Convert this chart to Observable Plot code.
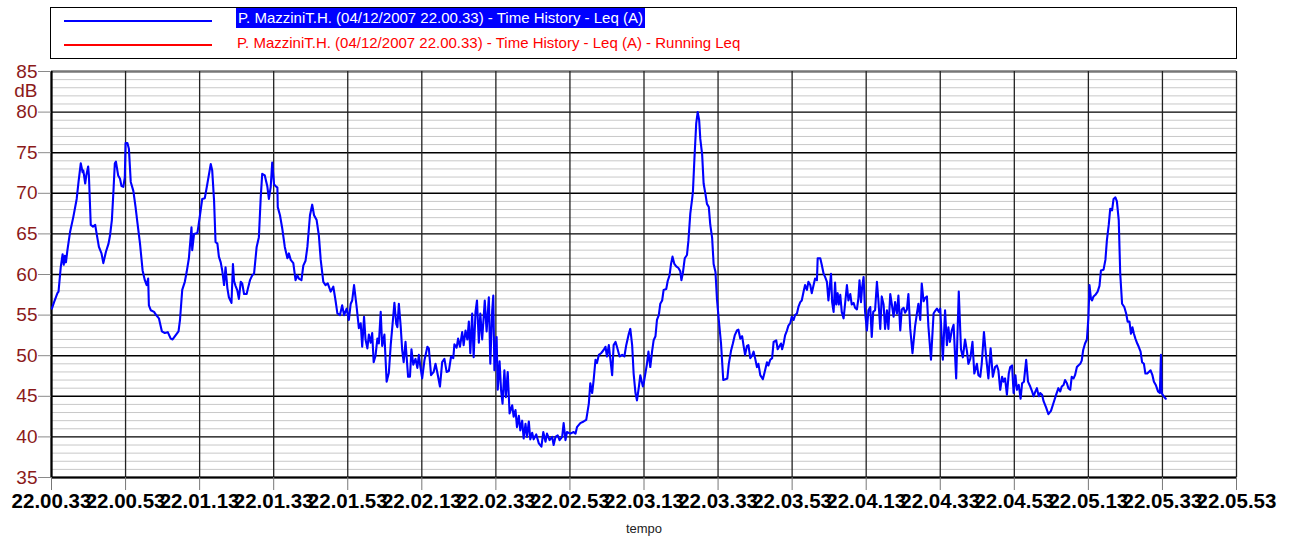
<!DOCTYPE html>
<html><head><meta charset="utf-8">
<script src="https://cdn.jsdelivr.net/npm/d3@7"></script>
<script src="https://cdn.jsdelivr.net/npm/@observablehq/plot@0.6"></script>
<style>
body{margin:0;background:#fff;font-family:"Liberation Sans",Arial,sans-serif;}
#wrap{position:relative;width:1296px;height:538px;overflow:hidden;}
#chart{position:absolute;left:0;top:0;}
#legend{position:absolute;left:50px;top:7px;width:1187px;height:52px;border:1.3px solid #000;box-sizing:border-box;}
.lline{position:absolute;left:13px;width:148px;height:2.4px;}
.ltext{position:absolute;font-size:15px;white-space:nowrap;line-height:20px;}
</style></head>
<body><div id="wrap"><div id="chart"></div><div id="legend"></div></div>
<script>
// ---- data ----
const seriesNames = [
  "P. MazziniT.H. (04/12/2007 22.00.33) - Time History - Leq (A)",
  "P. MazziniT.H. (04/12/2007 22.00.33) - Time History - Leq (A) - Running Leq"
];
const seriesColors = ["#0000ff", "#ff0000"];
const xTickSeconds = [0,20,40,60,80,100,120,140,160,180,200,220,240,260,280,300,320];
const xTickLabels = ["22.00.33","22.00.53","22.01.13","22.01.33","22.01.53","22.02.13","22.02.33","22.02.53","22.03.13","22.03.33","22.03.53","22.04.13","22.04.33","22.04.53","22.05.13","22.05.33","22.05.53"];
const yTicks = [35,40,45,50,55,60,65,70,75,80,85];
const yMinor = [36,37,38,39,41,42,43,44,46,47,48,49,51,52,53,54,56,57,58,59,61,62,63,64,66,67,68,69,71,72,73,74,76,77,78,79,81,82,83,84];
const yUnit = "dB";
const xTitle = "tempo";
// [seconds from 22.00.33, Leq dB(A)]
const leqSeries = [
[0.1,55.8],[0.7,56.6],[1.6,57.7],[1.9,57.9],[2.5,60.9],[3.0,62.5],[3.3,61.2],[3.6,62.3],[3.9,61.5],[4.3,63],
[5.0,65.2],[5.9,67.1],[6.8,69.3],[7.3,71.4],[7.9,73.7],[8.4,72.6],[8.6,72.8],[9.1,71.2],[9.4,72.2],[9.9,73.3],
[10.1,72.2],[10.6,66.1],[11.2,65.9],[11.8,66.1],[12.2,65],[12.8,63.4],[13.5,62.6],[14.0,61.4],[14.7,62.8],[15.4,63.8],
[15.8,64.8],[16.3,66.7],[16.7,70],[17.1,73.7],[17.4,73.9],[18.0,72.2],[18.5,71.8],[18.9,70.9],[19.4,70.8],[19.8,72.0],
[20.0,76.2],[20.5,76.2],[20.9,75.5],[21.4,71.4],[22.1,70.3],[22.7,68.3],[23.2,66.4],[23.9,63.8],[24.6,60.5],[25.2,59.3],
[25.7,58.7],[26.1,59.5],[26.3,56.2],[26.8,55.6],[27.7,55.4],[28.1,55.1],[29.0,54.6],[29.8,53.0],[30.6,52.8],[31.4,52.9],
[32.2,52.1],[32.7,52.0],[33.5,52.5],[34.3,53.0],[34.7,54.4],[35.3,58.1],[36.0,59.1],[36.5,60.3],[37.1,62],[37.8,65.8],
[38.0,63],[38.5,65],[39.4,65.1],[40.1,67.3],[40.7,69.3],[41.4,69.4],[42.1,71.2],[43.0,73.6],[43.4,72.8],[43.9,69.1],
[44.3,64],[44.8,63.8],[45.2,62.2],[45.7,61.5],[46.1,60.5],[46.6,58.7],[47.0,60.9],[47.5,58.3],[47.9,57.2],[48.6,56.5],
[49.0,61.3],[49.3,59.2],[49.7,58.6],[50.2,58.0],[50.6,57],[51.1,59.1],[51.5,58.9],[52.0,57.6],[52.7,57.6],[53.0,58.2],
[53.6,59.3],[54.2,59.9],[54.7,60.1],[55.4,63.4],[56.0,64.6],[56.5,69.5],[56.9,72.4],[57.6,72.2],[58.3,70.8],[58.7,69.3],
[59.2,70.8],[59.6,73.8],[60.1,71.1],[60.5,70.9],[61.0,70.7],[61.1,68.3],[61.7,67.3],[62.3,65.7],[63.0,63.4],[63.7,62],
[64.1,62.6],[64.6,61.8],[65.3,61.4],[65.9,59.3],[66.4,59.9],[66.8,59.5],[67.5,59.3],[68.0,61.1],[68.6,61.7],[69.1,63.4],
[69.8,67.3],[70.4,68.6],[70.9,67.3],[71.6,66.7],[72.2,64.8],[72.7,61.8],[73.4,59.1],[74.0,58.7],[74.6,58.9],[75.4,57.9],
[76.1,58.5],[76.7,56.8],[77.2,55.2],[77.9,55.0],[78.5,56.2],[79.0,55.0],[79.7,55.8],[80.3,54.4],[80.8,56.4],[81.2,56.8],
[81.7,58.7],[82.4,56.0],[83.0,53.4],[83.5,54.0],[83.9,51.1],[84.4,54.8],[84.8,52.0],[85.3,50.9],[85.7,52.6],[86.2,51.6],
[86.6,52.8],[87.0,49.2],[87.5,50.0],[88.0,52.1],[88.4,51.5],[88.9,55.4],[89.3,51.2],[89.9,52.6],[90.5,46.8],[91.1,47.9],
[91.6,51.3],[92.2,54.4],[92.6,56.5],[93.1,53.9],[93.4,53.5],[93.8,56.4],[94.3,53.6],[94.7,50.7],[95.1,49.2],[95.6,51.7],
[96.3,47.4],[96.8,47.4],[97.2,50.8],[97.7,48.9],[98.3,49.6],[98.8,48.5],[99.2,50.1],[99.6,48.7],[100.1,47.2],[100.7,49.4],
[101.5,51.1],[101.9,50.9],[102.5,47.6],[103.2,48.0],[103.7,49.0],[104.2,47.9],[104.9,46.2],[105.5,49.2],[106.1,49.6],[106.7,48.0],
[107.3,48.1],[107.9,49.9],[108.5,49.7],[108.8,51.4],[109.4,51.0],[109.8,52.1],[110.3,51.1],[110.9,52.9],[111.3,51.3],[111.8,53.1],
[112.3,52.0],[112.7,54.2],[113.1,50.3],[113.6,55.2],[114.0,49.8],[114.5,55.4],[114.9,56.8],[115.4,51.6],[115.8,55.2],[116.3,52.0],
[117.0,56.8],[117.5,53.0],[118.1,57.2],[118.5,49.0],[119.0,55.5],[119.3,57.4],[119.6,48.2],[120.2,52.3],[120.5,45.8],[121.0,49.3],
[121.4,45.8],[121.8,44.1],[122.3,48.2],[122.7,44.9],[123.2,48.0],[123.7,42.9],[124.4,43.9],[124.8,42.5],[125.3,43.3],[125.7,41.2],
[126.2,42.6],[126.6,40.8],[127.1,42.0],[127.5,39.8],[128.0,41.6],[128.4,40.0],[128.9,41.9],[129.3,39.7],[129.8,40.5],[130.2,39.7],
[130.9,40.3],[131.6,39.2],[132.3,38.8],[132.8,40.6],[133.4,39.4],[133.8,40.4],[134.5,39.6],[135.2,40.0],[135.6,39.0],[136.1,40.0],
[136.7,40.2],[137.2,39.6],[137.9,40.0],[138.3,41.7],[138.8,39.6],[139.2,40.6],[140.1,40.4],[141.0,40.6],[141.5,40.4],[141.9,41.2],
[142.8,41.7],[143.7,41.9],[144.4,42.1],[145.1,44.1],[145.5,46.6],[146.0,45.4],[146.4,47.0],[146.9,49.5],[147.3,49.1],[147.8,50.1],
[148.4,50.3],[149.1,50.7],[149.6,51.1],[150.0,49.9],[150.5,51.3],[151.4,47.6],[151.8,51.3],[152.3,51.7],[152.7,51.1],[153.4,49.9],
[154.1,50.1],[154.7,49.9],[155.2,51.3],[155.9,52.7],[156.3,53.3],[156.8,51.3],[157.2,47.8],[157.7,45.4],[158.1,44.5],[158.6,46.1],
[159.0,47.6],[159.7,46.2],[160.0,46.8],[160.8,49.0],[161.2,50.5],[161.7,48.6],[162.2,50.6],[162.6,51.9],[163.1,52.4],[163.5,54.4],
[164.0,55.0],[164.4,56.4],[164.9,56.8],[165.3,58.1],[166.0,58.2],[166.4,59.2],[166.9,59.9],[167.3,61.3],[167.7,62.2],[168.2,61.3],
[168.7,61.0],[169.3,60.8],[169.8,60.4],[170.1,59.3],[170.5,60.2],[171.0,62.0],[171.6,62.4],[172.0,64.2],[172.5,67.5],[173.0,69.3],
[173.2,70.1],[173.6,74.1],[174.1,78.6],[174.5,80.0],[174.9,79.0],[175.2,76.7],[175.7,74.8],[176.1,71.2],[176.6,69.9],[177.0,68.7],
[177.5,68.3],[177.9,66.1],[178.4,64.5],[178.8,61.3],[179.3,60.3],[179.7,57.0],[180.2,54.4],[180.8,51.5],[181.4,47.0],[182.0,47.1],
[182.5,47.2],[182.9,49.0],[183.5,50.6],[184.0,51.5],[184.5,52.5],[185.1,53.1],[185.5,53.2],[186.0,52.1],[186.5,52.4],[186.9,51.2],
[187.3,50.1],[187.8,51.2],[188.2,51.3],[188.7,49.7],[189.2,50.0],[189.6,50.5],[190.0,49.7],[190.5,48.6],[190.9,49.0],[191.4,47.6],
[192.1,47.1],[192.7,48.2],[193.2,49.2],[193.6,48.8],[194.1,49.5],[194.6,49.7],[195.0,51.7],[195.7,51.9],[196.1,50.8],[196.6,51.2],
[197.0,51.5],[197.3,50.8],[197.7,51.5],[198.1,52.5],[198.6,53.1],[199.0,53.7],[199.5,54.0],[199.9,54.8],[200.4,54.4],[200.8,55.0],
[201.3,55.2],[201.7,56.0],[202.2,56.6],[202.6,56.8],[203.1,57.9],[203.5,58.7],[204.0,58.1],[204.4,59.1],[204.9,58.7],[205.3,57.7],
[205.8,58.7],[206.2,59.5],[206.7,59.3],[206.9,62.0],[207.6,62.0],[208.0,61.2],[208.5,60.1],[208.9,59.7],[209.4,59.1],[209.8,56.8],
[210.1,58.2],[210.5,60.1],[210.8,56.6],[211.2,55.4],[211.6,59.0],[211.9,56.3],[212.3,57.7],[212.6,56.3],[213.0,57.5],[213.4,55.4],
[213.9,54.6],[214.3,56.4],[214.8,58.7],[215.2,56.8],[215.7,57.6],[216.1,56.3],[216.6,56.5],[217.0,55.9],[217.5,55.7],[217.9,57.1],
[218.2,59.3],[218.6,56.6],[218.9,58.4],[219.3,59.7],[219.7,55.4],[220.2,53.1],[220.6,55.6],[221.1,56.0],[221.5,52.3],[221.9,55.4],
[222.4,55.6],[222.9,59.1],[223.3,56.8],[223.8,53.3],[224.2,57.3],[224.7,56.3],[225.1,53.3],[225.6,55.6],[226.0,53.3],[226.5,57.6],
[226.9,56.4],[227.4,54.8],[227.8,56.6],[228.3,55.2],[228.7,57.4],[229.2,53.1],[229.6,55.7],[230.1,55.9],[230.5,55.3],[231.0,55.7],
[231.4,57.6],[231.9,53.3],[232.5,50.3],[233.2,53.6],[233.7,55.2],[234.1,56.4],[234.6,54.4],[235.0,58.9],[235.5,56.7],[235.9,57.1],
[236.4,57.3],[236.8,53.6],[237.5,49.5],[238.2,55.2],[238.6,55.5],[239.1,55.8],[239.6,55.4],[240.0,55.8],[240.7,49.5],[241.3,55.6],
[241.8,51.3],[242.2,53.5],[242.6,51.7],[243.1,53.1],[243.6,53.8],[244.3,47.2],[245.0,57.9],[245.6,50.8],[246.1,49.8],[246.7,52.0],
[247.2,50.6],[247.6,49.0],[248.1,49.6],[248.7,51.7],[249.2,47.8],[249.9,49.0],[250.3,47.6],[250.8,47.4],[251.2,49.0],[251.8,52.9],
[252.4,49.8],[253.0,47.2],[253.6,50.9],[254.2,47.4],[254.8,48.6],[255.3,48.8],[255.7,48.2],[256.2,45.8],[256.7,47.4],[257.1,46.8],
[257.5,47.2],[258.0,45.2],[258.5,47.8],[258.9,48.6],[259.4,48.8],[259.8,45.4],[260.3,47.6],[260.7,45.8],[261.2,46.4],[261.7,44.7],
[262.1,46.6],[262.6,46.8],[263.2,49.5],[263.7,46.8],[264.3,46.2],[264.8,45.6],[265.2,45.0],[265.7,45.6],[266.1,46.0],[266.6,45.0],
[267.0,45.4],[267.5,45.2],[267.9,44.4],[268.6,43.6],[269.2,42.8],[269.9,43.2],[270.6,44.2],[271.3,45.2],[271.9,46.0],[272.4,45.6],
[272.8,46.2],[273.3,46.4],[273.7,47.0],[274.2,46.6],[274.6,46.0],[275.1,45.8],[275.5,47.4],[276.0,47.2],[276.4,47.6],[276.9,48.6],
[277.3,48.8],[277.8,49.0],[278.2,49.4],[278.6,50.7],[279.1,51.5],[279.6,52.0],[280.0,54.6],[280.3,58.7],[280.7,57.0],[281.0,56.8],
[281.4,57.3],[281.9,57.5],[282.5,57.9],[283.0,58.6],[283.4,60.5],[284.1,60.6],[284.6,61.8],[285.0,64.2],[285.5,66.1],[285.9,68.1],
[286.4,67.9],[286.8,69.3],[287.3,69.5],[287.7,69.0],[288.2,66.7],[288.6,60.1],[289.1,56.4],[289.7,56.0],[290.2,55.2],[290.6,54.2],
[291.1,54.2],[291.5,52.7],[291.9,53.5],[292.3,52.7],[292.7,52.1],[293.2,51.5],[293.6,51.1],[294.1,50.5],[294.5,49.2],[295.0,49.0],
[295.4,47.8],[295.9,47.8],[296.8,48.2],[297.3,47.6],[297.7,46.8],[298.2,46.4],[298.8,45.6],[299.3,45.4],[299.6,50.1],[299.8,45.4],
[300.3,45.0],[300.9,44.7]
];
// ---- chart ----
const data = leqSeries.map(([t, v]) => ({t, v}));
const labelOf = new Map(xTickSeconds.map((s, i) => [s, xTickLabels[i]]));
const chart = Plot.plot({
  width: 1296, height: 538,
  marginLeft: 51, marginRight: 60, marginTop: 71, marginBottom: 61,
  style: {fontFamily: '"Liberation Sans", Arial, sans-serif', background: "transparent"},
  x: {domain: [xTickSeconds[0], xTickSeconds[xTickSeconds.length - 1]]},
  y: {domain: [yTicks[0], yTicks[yTicks.length - 1]]},
  marks: [
    Plot.ruleY(yMinor, {stroke: "#c8c8c8", strokeWidth: 1}),
    Plot.ruleY(yTicks.slice(0, -1), {stroke: "#000", strokeWidth: 1.4}),
    Plot.ruleY(yTicks.slice(-1), {stroke: "#777", strokeWidth: 2.5}),
    Plot.ruleX(xTickSeconds, {stroke: "#222", strokeWidth: 1.3}),
    Plot.ruleX(xTickSeconds.slice(0, 1), {stroke: "#000", strokeWidth: 2.2}),
    Plot.ruleY(yTicks.slice(0, 1), {stroke: "#000", strokeWidth: 2}),
    Plot.line(data, {x: "t", y: "v", stroke: seriesColors[0], strokeWidth: 2.1}),
    Plot.axisY(yTicks, {tickSize: 13, tickPadding: 1, stroke: "#8a8a8a", fill: "#8b1a1a", fontSize: 19, label: null}),
    Plot.axisX(xTickSeconds, {tickSize: 13, tickPadding: 3, stroke: "#777", fill: "#000", fontSize: 20.5, fontWeight: "bold", tickFormat: d => labelOf.get(d), label: null}),
    Plot.text([yUnit], {frameAnchor: "top-left", lineAnchor: "middle", dx: -14, dy: 19, textAnchor: "end", fill: "#8b1a1a", fontSize: 19}),
    Plot.text([xTitle], {frameAnchor: "bottom", lineAnchor: "middle", dy: 51, fill: "#222", fontSize: 13})
  ]
});
document.getElementById("chart").appendChild(chart);
// ---- legend ----
const legend = document.getElementById("legend");
seriesNames.forEach((name, i) => {
  const ln = document.createElement("div");
  ln.className = "lline";
  ln.style.top = (i === 0 ? 11.5 : 36) + "px";
  ln.style.background = seriesColors[i];
  legend.appendChild(ln);
  const tx = document.createElement("div");
  tx.className = "ltext";
  tx.textContent = name;
  tx.style.left = (i === 0 ? 185 : 186) + "px";
  tx.style.top = (i === 0 ? -0.5 : 25) + "px";
  if (i === 0) { tx.style.background = seriesColors[0]; tx.style.color = "#fff"; tx.style.padding = "0 2px"; }
  else { tx.style.color = seriesColors[1]; }
  legend.appendChild(tx);
});
</script></body></html>
